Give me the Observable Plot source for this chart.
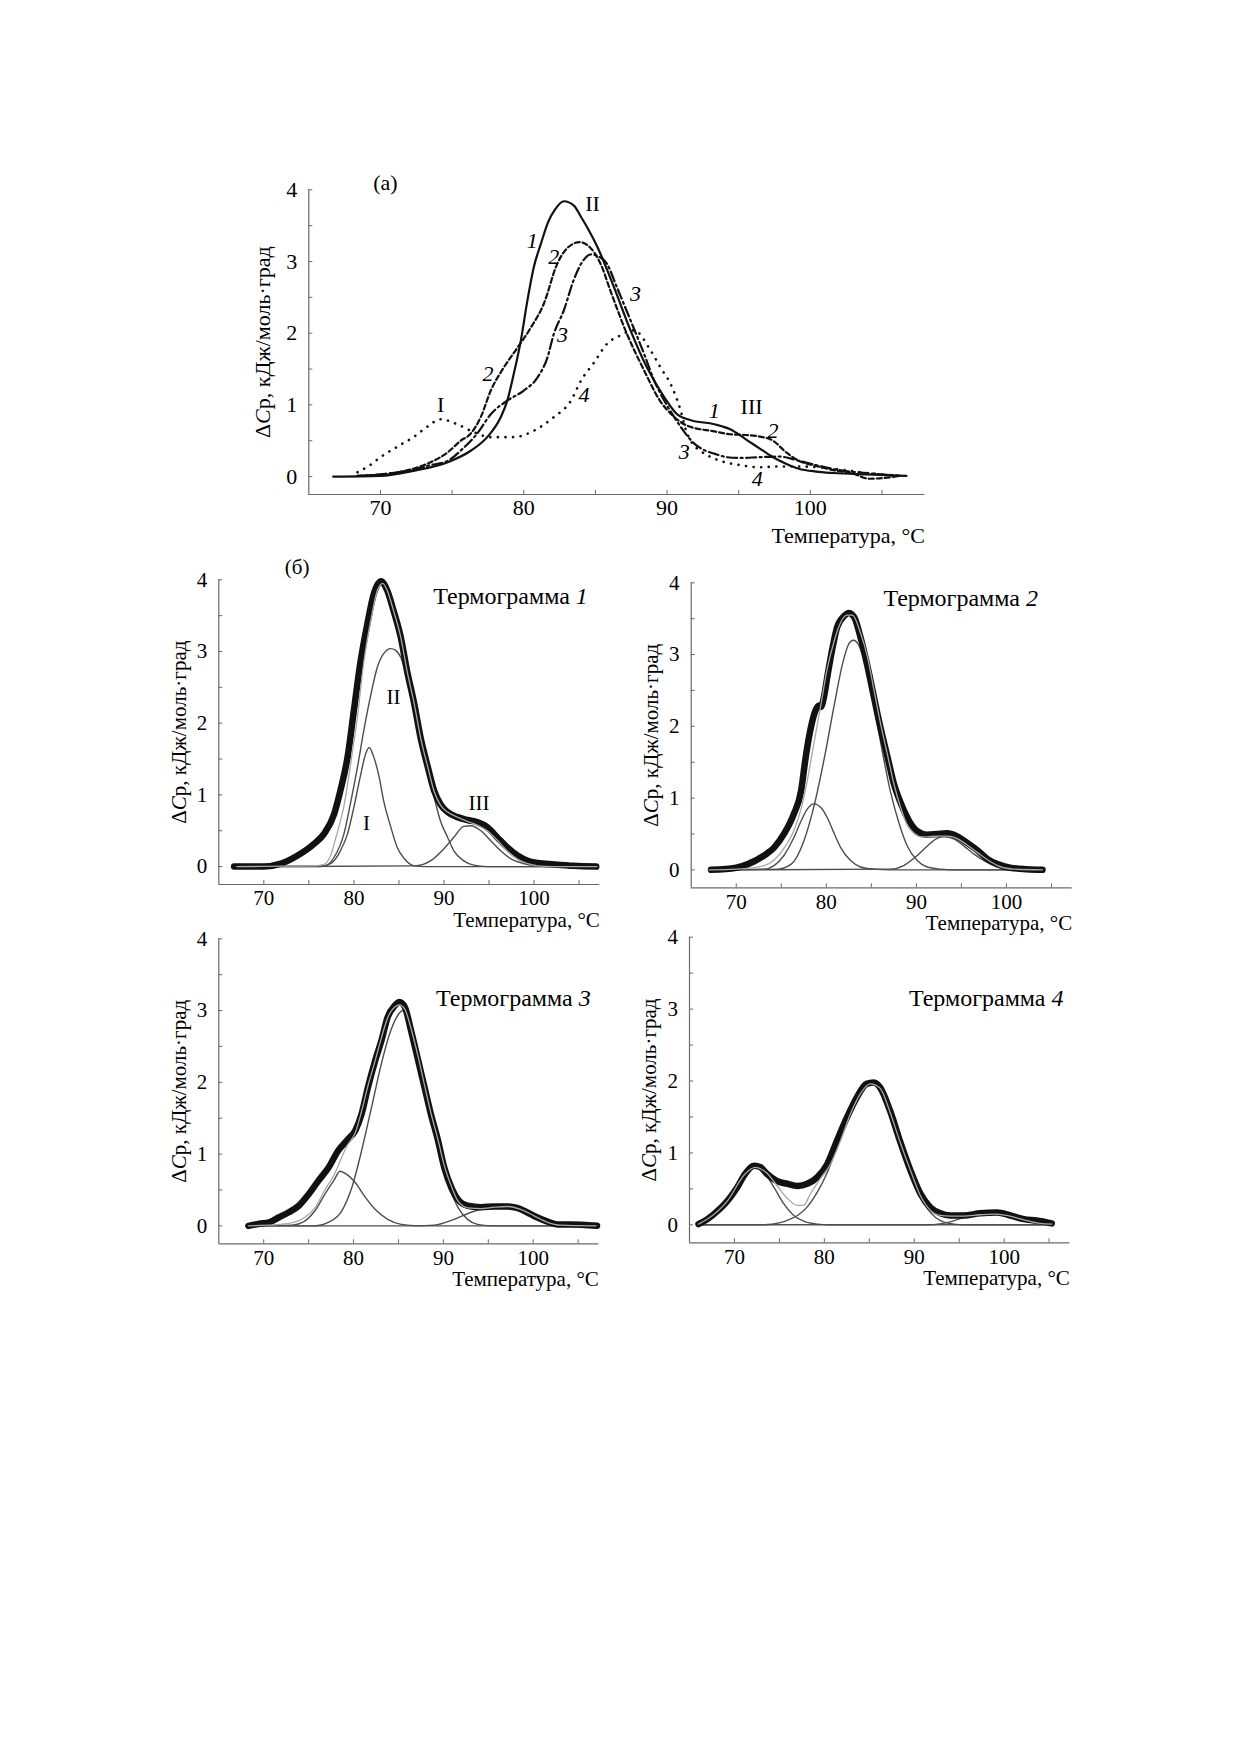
<!DOCTYPE html>
<html><head><meta charset="utf-8">
<script src="https://cdn.jsdelivr.net/npm/d3@7"></script>
<script src="https://cdn.jsdelivr.net/npm/@observablehq/plot@0.6"></script>
<style>
html,body{margin:0;padding:0;background:#fff;}
#page{position:relative;width:1240px;height:1754px;background:#fff;overflow:hidden;}
</style></head><body><div id="page"></div>
<script>
// ---------- shared tick labels ----------
const xTicks = [70, 75, 80, 85, 90, 95, 100, 105];
const yTicks = [0, 0.5, 1, 1.5, 2, 2.5, 3, 3.5, 4];
const xTitle = "Температура, °C";
const yTitle = "ΔCр, кДж/моль·град";

// ---------- panel (а): four thermograms [T, ΔCp] ----------
const a1 = [[66.7,0],[70,0.01],[72.3,0.08],[74.7,0.2],[76.3,0.36],[77.45,0.55],[78.4,0.83],[78.85,1.06],[79.3,1.43],[79.8,1.9],[80.25,2.45],[80.7,2.92],[81.2,3.25],[81.7,3.55],[82.2,3.73],[82.8,3.84],[83.5,3.78],[84.0,3.62],[84.5,3.45],[85.1,3.22],[86.3,2.64],[87.45,2.04],[88.6,1.52],[89.8,1.11],[90.7,0.87],[91.6,0.79],[93.3,0.73],[94.4,0.66],[95.5,0.52],[96.4,0.4],[97.4,0.27],[98.3,0.18],[99.2,0.11],[100.4,0.07],[101.6,0.05],[103.9,0.03],[106.7,0.01]];
const a2 = [[68.4,0.01],[70,0.03],[71.2,0.06],[72.3,0.11],[73.5,0.2],[74.7,0.34],[75.6,0.5],[76.3,0.6],[77.0,0.83],[77.7,1.2],[78.6,1.52],[79.5,1.78],[80.5,2.08],[81.4,2.41],[82.3,2.95],[83.0,3.18],[83.9,3.27],[84.9,3.13],[85.4,2.95],[86.05,2.59],[87.2,1.99],[88.4,1.48],[89.5,1.06],[90.4,0.85],[91.4,0.71],[93.3,0.63],[94.4,0.59],[95.5,0.58],[96.4,0.56],[97.4,0.5],[98.3,0.34],[99.2,0.22],[100.4,0.15],[101.6,0.09],[103,0.04],[104.1,-0.03],[105.1,-0.02],[106.2,0.01]];
const a3 = [[68.4,0.01],[70,0.03],[71.2,0.06],[72.3,0.1],[73.5,0.16],[74.7,0.22],[75.8,0.4],[76.75,0.6],[77.7,0.87],[78.85,1.06],[80.0,1.2],[80.95,1.38],[81.65,1.66],[82.1,1.99],[82.8,2.32],[83.5,2.75],[84.1,3.0],[84.7,3.1],[85.1,3.08],[85.8,2.97],[86.5,2.64],[87.45,2.18],[88.4,1.71],[89.1,1.34],[89.8,1.06],[90.5,0.83],[91.0,0.68],[91.9,0.46],[92.7,0.36],[93.3,0.32],[94.2,0.27],[95.1,0.26],[96.4,0.27],[97.8,0.28],[99.2,0.22],[100.6,0.15],[102,0.09],[103.9,0.05],[106.2,0.01]];
const a4 = [[68.4,0.06],[69.2,0.15],[70,0.27],[71.2,0.42],[72.3,0.55],[73.3,0.7],[74.2,0.8],[75.35,0.73],[76.5,0.62],[77.7,0.55],[79.3,0.55],[80.7,0.64],[82.1,0.83],[83.3,1.06],[84.0,1.34],[84.9,1.59],[85.8,1.85],[86.75,1.97],[87.7,2.04],[88.85,1.76],[89.55,1.52],[90.25,1.29],[90.95,0.92],[91.3,0.66],[91.7,0.48],[92.4,0.35],[93.7,0.22],[95.1,0.16],[96.4,0.13],[97.8,0.14],[99.2,0.14],[100.6,0.13],[102,0.1],[103.9,0.05],[106.2,0.01]];
const aRomanLabels = [{t:"(а)", x:70.35, y:4.1}, {t:"II", x:84.8, y:3.8}, {t:"I", x:74.2, y:1.0}, {t:"III", x:95.9, y:0.97}];
const aItalicLabels = [{t:"1", x:80.6, y:3.29}, {t:"2", x:82.1, y:3.06}, {t:"3", x:87.8, y:2.55}, {t:"3", x:82.7, y:1.97}, {t:"2", x:77.5, y:1.43}, {t:"4", x:84.2, y:1.14}, {t:"1", x:93.3, y:0.92}, {t:"2", x:97.4, y:0.64}, {t:"3", x:91.2, y:0.34}, {t:"4", x:96.3, y:-0.03}];

// ---------- panel (б), thermogram 1 ----------
const t1Exp = [[66.7,0],[70,0],[71.9,0.04],[73.7,0.15],[75.6,0.32],[76.7,0.46],[77.8,0.73],[78.5,1.06],[79.3,1.53],[80.0,2.18],[80.7,2.83],[81.5,3.39],[82.2,3.8],[83.0,3.98],[83.7,3.85],[84.4,3.57],[85.2,3.2],[85.9,2.73],[86.7,2.27],[87.4,1.8],[88.2,1.39],[88.9,1.06],[89.6,0.87],[90.4,0.76],[91.5,0.69],[92.6,0.65],[93.7,0.62],[94.8,0.55],[95.9,0.41],[97.0,0.27],[98.2,0.15],[99.3,0.08],[100.4,0.05],[102.2,0.03],[104.4,0.01],[106.9,0]];
const t1Fit = [[67,0],[75.6,0.01],[76.7,0.03],[77.4,0.15],[78.1,0.45],[78.9,0.85],[79.6,1.4],[80.4,2.1],[81.1,2.85],[81.9,3.45],[82.6,3.85],[83.2,3.95],[83.7,3.85],[84.4,3.57],[85.2,3.2],[85.9,2.73],[86.7,2.27],[87.4,1.8],[88.2,1.39],[88.9,1.05],[89.6,0.86],[90.4,0.76],[91.5,0.69],[92.6,0.63],[93.7,0.58],[94.8,0.5],[95.9,0.37],[97.0,0.22],[98.2,0.1],[99.3,0.04],[100.4,0.01],[102,0],[107,0]];
const t1PeakI = [[67,0],[76.3,0],[77.4,0.04],[78.5,0.22],[79.3,0.46],[80.0,0.83],[80.7,1.25],[81.3,1.57],[81.7,1.66],[82.2,1.53],[82.8,1.25],[83.3,0.92],[84.1,0.55],[84.8,0.27],[85.6,0.11],[86.7,0.01],[87.8,0],[107,0]];
const t1PeakII = [[67,0],[76.7,0.01],[77.8,0.13],[78.9,0.46],[79.6,0.87],[80.4,1.39],[81.1,1.9],[81.9,2.41],[82.6,2.78],[83.3,2.97],[84.1,3.04],[84.6,3.02],[85.2,2.92],[85.9,2.64],[86.7,2.22],[87.4,1.8],[88.2,1.34],[88.9,0.97],[89.6,0.64],[90.4,0.41],[91.1,0.22],[92.2,0.08],[93.3,0.02],[94.8,0],[107,0]];
const t1PeakIII = [[67,0],[86.7,0.01],[88.5,0.08],[90.0,0.25],[91.1,0.41],[92.2,0.56],[93.0,0.57],[94.1,0.5],[95.2,0.36],[96.3,0.22],[97.4,0.11],[98.9,0.04],[100.4,0.01],[101.9,0],[107,0]];
const t1Labels = [{t:"(б)", x:73.7, y:4.17}, {t:"II", x:84.4, y:2.36}, {t:"I", x:81.4, y:0.61}, {t:"III", x:93.9, y:0.89}];

// ---------- thermogram 2 ----------
const t2Exp = [[67.2,0],[70,0.03],[71.3,0.08],[73.1,0.2],[74.2,0.31],[75.3,0.5],[76.4,0.78],[77.2,1.1],[77.7,1.56],[78.3,1.99],[78.8,2.22],[79.2,2.29],[79.4,2.27],[79.8,2.45],[80.1,2.68],[80.7,3.1],[81.2,3.38],[82.0,3.54],[82.5,3.58],[83.1,3.52],[83.8,3.24],[84.6,2.82],[85.3,2.4],[86.0,1.99],[86.8,1.57],[87.5,1.2],[88.3,0.92],[89.2,0.68],[90.1,0.54],[91.2,0.49],[92.3,0.5],[93.4,0.51],[94.5,0.47],[95.6,0.38],[96.8,0.27],[97.9,0.15],[99.0,0.08],[100.4,0.03],[102.3,0.01],[104.0,0]];
const t2Fit = [[67,0],[70,0.01],[73.1,0.06],[75.3,0.3],[76.4,0.55],[77.2,0.85],[77.9,1.25],[78.6,1.75],[79.4,2.3],[80.1,2.8],[80.9,3.2],[81.6,3.45],[82.3,3.55],[82.9,3.55],[83.8,3.3],[84.6,2.95],[85.3,2.5],[86.0,2.05],[86.8,1.6],[87.5,1.2],[88.3,0.85],[89.0,0.62],[89.8,0.5],[90.5,0.46],[91.2,0.46],[92.3,0.47],[93.4,0.47],[94.5,0.44],[95.6,0.35],[96.8,0.24],[97.9,0.14],[99.0,0.06],[100.8,0.01],[104,0]];
const t2PeakI = [[67,0],[73.1,0.01],[74.2,0.06],[75.3,0.2],[76.4,0.45],[77.2,0.68],[77.9,0.85],[78.6,0.92],[79.4,0.87],[80.1,0.73],[80.9,0.5],[81.6,0.31],[82.7,0.13],[83.8,0.04],[85.3,0.01],[87.1,0],[104,0]];
const t2PeakII = [[67,0],[74.6,0.01],[76.1,0.08],[77.5,0.4],[78.6,0.87],[79.8,1.57],[80.9,2.31],[81.8,2.87],[82.5,3.15],[83.0,3.2],[83.6,3.13],[84.4,2.82],[85.3,2.27],[86.2,1.66],[87.1,1.1],[88.1,0.64],[89.0,0.33],[90.1,0.13],[91.2,0.04],[92.7,0.01],[94,0],[104,0]];
const t2PeakIII = [[67,0],[87.1,0.01],[88.6,0.06],[90.1,0.2],[91.2,0.33],[92.3,0.44],[93.1,0.46],[94.2,0.43],[95.3,0.33],[96.4,0.22],[97.5,0.13],[99.0,0.04],[100.8,0],[104,0]];

// ---------- thermogram 3 ----------
const t3Exp = [[68.3,0],[69.5,0.03],[70.6,0.05],[71.7,0.12],[72.8,0.19],[73.9,0.28],[75.0,0.44],[76.1,0.63],[77.2,0.81],[78.3,1.05],[79.4,1.21],[80.2,1.33],[80.9,1.56],[81.6,1.93],[82.4,2.3],[83.1,2.58],[83.8,2.91],[84.6,3.07],[85.1,3.12],[85.7,3.05],[86.4,2.72],[87.2,2.3],[87.9,1.93],[88.6,1.56],[89.4,1.19],[90.1,0.81],[90.9,0.53],[91.6,0.37],[92.7,0.28],[94.2,0.26],[95.7,0.27],[97.1,0.27],[98.2,0.25],[99.3,0.19],[100.4,0.12],[101.6,0.06],[102.7,0.02],[104.1,0.02],[107.1,0]];
const t3Fit = [[68.3,0],[71.7,0.02],[73.1,0.04],[74.6,0.12],[75.7,0.25],[76.8,0.5],[77.8,0.7],[78.5,0.9],[79.2,1.1],[80.2,1.3],[80.9,1.6],[81.6,1.95],[82.4,2.3],[83.1,2.62],[83.8,2.9],[84.6,3.05],[85.1,3.08],[85.7,3.02],[86.4,2.75],[87.2,2.35],[87.9,1.96],[88.6,1.58],[89.4,1.2],[90.1,0.84],[90.9,0.55],[91.6,0.35],[92.7,0.25],[94.2,0.24],[95.7,0.26],[97.1,0.27],[98.6,0.23],[100.1,0.14],[101.6,0.05],[103,0.01],[107,0]];
const t3PeakI = [[68,0],[73.1,0.01],[74.6,0.07],[75.7,0.21],[76.8,0.44],[77.8,0.63],[78.5,0.76],[79.2,0.72],[80.2,0.6],[81.3,0.4],[82.4,0.23],[83.8,0.09],[85.3,0.02],[87.2,0],[107,0]];
const t3PeakII = [[68,0],[75.7,0],[77.2,0.05],[78.7,0.21],[79.8,0.53],[80.9,1.05],[82.0,1.65],[83.1,2.26],[84.0,2.67],[84.8,2.91],[85.5,3.0],[86.2,2.86],[87.0,2.49],[87.9,1.98],[88.8,1.42],[89.7,0.91],[90.7,0.53],[91.6,0.26],[92.7,0.09],[93.8,0.02],[95.3,0],[107,0]];
const t3PeakIII = [[68,0],[86.8,0],[89.0,0.01],[91.2,0.09],[93.1,0.19],[94.2,0.23],[95.7,0.26],[97.1,0.27],[98.6,0.23],[100.1,0.14],[101.6,0.05],[103.0,0.01],[104.8,0],[107,0]];

// ---------- thermogram 4 ----------
const t4Exp = [[66.0,0.01],[67.0,0.08],[68.1,0.19],[69.2,0.33],[70.3,0.52],[71.2,0.71],[72.2,0.82],[72.9,0.8],[73.6,0.71],[74.7,0.61],[75.9,0.57],[77.0,0.54],[78.1,0.57],[79.2,0.66],[80.3,0.84],[81.4,1.17],[82.5,1.49],[83.6,1.77],[84.7,1.96],[85.5,1.98],[86.2,1.91],[87.3,1.59],[88.4,1.17],[89.6,0.75],[90.7,0.43],[91.8,0.24],[92.9,0.16],[94.0,0.13],[95.5,0.13],[97.3,0.16],[99.2,0.17],[100.7,0.13],[102.2,0.08],[103.6,0.06],[105.3,0.02]];
const t4Fit = [[66,0.01],[67,0.08],[69.2,0.33],[71.2,0.71],[72.3,0.8],[73.6,0.72],[74.7,0.55],[75.8,0.38],[77.0,0.27],[77.7,0.27],[78.4,0.42],[79.6,0.65],[80.7,0.85],[81.8,1.17],[82.9,1.54],[84.0,1.82],[85.1,1.96],[86.2,1.9],[87.3,1.57],[88.4,1.16],[89.6,0.75],[90.7,0.4],[91.8,0.2],[92.9,0.13],[94.0,0.12],[95.5,0.12],[97.3,0.14],[98.8,0.15],[100.3,0.13],[102.2,0.07],[104,0.02],[105.3,0.01]];
const t4PeakI = [[66.0,0.01],[67.0,0.08],[68.1,0.19],[69.2,0.33],[70.3,0.54],[71.2,0.71],[72.3,0.8],[73.3,0.73],[74.4,0.52],[75.5,0.29],[76.6,0.13],[77.7,0.05],[79.2,0.01],[80.7,0],[105.3,0]];
const t4PeakII = [[66,0],[73.3,0],[75.1,0.03],[76.2,0.08],[77.0,0.13],[78.1,0.25],[79.2,0.45],[80.3,0.72],[81.4,1.08],[82.5,1.45],[83.6,1.75],[84.7,1.93],[85.5,1.97],[86.2,1.89],[87.3,1.56],[88.4,1.15],[89.6,0.73],[90.7,0.38],[91.8,0.17],[92.9,0.06],[94.4,0.01],[95.5,0],[105.3,0]];
const t4PeakIII = [[66,0],[91.8,0],[93.6,0.03],[95.5,0.1],[97.3,0.14],[98.8,0.15],[100.3,0.13],[102.2,0.06],[104.0,0.01],[105.3,0]];

// thermogram titles: number, right end (°C), vertical centre (ΔCp)
const titleNums = ["1", "2", "3", "4"];
const titleX = [105.97, 103.5, 106.4, 106.6];
const titleY = [3.77, 3.79, 3.17, 3.15];

// ---------- drawing ----------
const FONT = "'Liberation Serif', 'Times New Roman', serif";
const AXIS = "#6a6a6a";
const page = document.getElementById("page");
const X = d => d[0], Y = d => d[1];

function axes(opt) {
  return [
    Plot.ruleX([opt.xDomain[0]], {stroke: AXIS, strokeWidth: 1.2}),
    Plot.ruleY([opt.yDomain[0]], {stroke: AXIS, strokeWidth: 1.2}),
    Plot.axisX(xTicks, {anchor: "bottom", tickSize: -4, tickPadding: opt.xPad, stroke: AXIS, fill: "#000",
      tickFormat: d => d % 10 === 0 ? String(d) : "", label: null}),
    Plot.text([xTitle], {frameAnchor: "bottom-right", text: d => d, textAnchor: "end", lineAnchor: "bottom",
      dy: opt.xLabelOffset, fill: "#000"}),
    Plot.axisY(yTicks, {anchor: "left", tickSize: -4, tickPadding: 15.6, stroke: AXIS, fill: "#000",
      tickFormat: d => Number.isInteger(d) ? String(d) : "",
      label: yTitle, labelAnchor: "center", labelOffset: opt.yLabelOffset, labelArrow: "none"})
  ];
}

function draw(opt, marks) {
  const [bl, bt, bw, bh] = opt.box;
  const [fx0, fy0, fx1, fy1] = opt.frame;
  const svg = Plot.plot({
    width: bw, height: bh,
    marginLeft: fx0 - bl, marginTop: fy0 - bt, marginRight: bl + bw - fx1, marginBottom: bt + bh - fy1,
    x: {domain: opt.xDomain}, y: {domain: opt.yDomain},
    style: {fontFamily: FONT, fontSize: opt.fontSize + "px", color: "#000", background: "transparent", overflow: "visible"},
    marks: [...axes(opt), ...marks]
  });
  svg.style.position = "absolute";
  svg.style.left = bl + "px";
  svg.style.top = bt + "px";
  page.appendChild(svg);
  const lab = svg.querySelector('g[aria-label="y-axis label"] text');
  if (lab) {
    const ns = "http://www.w3.org/2000/svg";
    lab.textContent = "";
    const parts = [["Δ", null], ["C", "italic"], ["р, кДж/моль·град", null]];
    for (const [s, st] of parts) {
      const ts = document.createElementNS(ns, "tspan");
      if (st) ts.setAttribute("font-style", st);
      ts.textContent = s;
      lab.appendChild(ts);
    }
  }
}

// Panel (а)
draw({box: [180, 140, 780, 420], frame: [308.3, 189.3, 924.5, 494], xDomain: [65, 108], yDomain: [-0.25, 4],
      fontSize: 22, xPad: 8.5, xLabelOffset: 48, yLabelOffset: 54}, [
  Plot.line(a4, {x: X, y: Y, stroke: "#111", strokeWidth: 2.6, strokeDasharray: "0.1 7.5", strokeLinecap: "round", curve: "monotone-x"}),
  Plot.line(a3, {x: X, y: Y, stroke: "#111", strokeWidth: 2.2, strokeDasharray: "10 3.5 2 3.5", curve: "monotone-x"}),
  Plot.line(a2, {x: X, y: Y, stroke: "#111", strokeWidth: 2.2, strokeDasharray: "5 3", curve: "monotone-x"}),
  Plot.line(a1, {x: X, y: Y, stroke: "#111", strokeWidth: 2.2, curve: "monotone-x"}),
  Plot.text(aRomanLabels, {x: "x", y: "y", text: "t", fontSize: 22, fill: "#000"}),
  Plot.text(aItalicLabels, {x: "x", y: "y", text: "t", fontSize: 22, fontStyle: "italic", fill: "#000"})
]);

const bPanels = [
  {box: [130, 540, 500, 400], frame: [218.3, 579.3, 599.3, 884], data: [t1Exp, t1Fit, t1PeakI, t1PeakII, t1PeakIII], labels: t1Labels},
  {box: [600, 540, 500, 400], frame: [690.7, 582.3, 1071.7, 887.3], data: [t2Exp, t2Fit, t2PeakI, t2PeakII, t2PeakIII], labels: []},
  {box: [130, 900, 500, 400], frame: [218.3, 938.3, 598.3, 1243.3], data: [t3Exp, t3Fit, t3PeakI, t3PeakII, t3PeakIII], labels: []},
  {box: [600, 900, 500, 400], frame: [689, 936.7, 1069.3, 1242.3], data: [t4Exp, t4Fit, t4PeakI, t4PeakII, t4PeakIII], labels: []}
];

bPanels.forEach((p, i) => {
  const [exp, fit, pI, pII, pIII] = p.data;
  const title = [{n: titleNums[i], x: titleX[i], y: titleY[i]}];
  draw({box: p.box, frame: p.frame, xDomain: [65, 107.3], yDomain: [-0.25, 4],
        fontSize: 21, xPad: 10, xLabelOffset: 42, yLabelOffset: 48}, [
    Plot.line(pI, {x: X, y: Y, stroke: "#4d4d4d", strokeWidth: 1.4, curve: "monotone-x"}),
    Plot.line(pII, {x: X, y: Y, stroke: "#4d4d4d", strokeWidth: 1.4, curve: "monotone-x"}),
    Plot.line(pIII, {x: X, y: Y, stroke: "#4d4d4d", strokeWidth: 1.4, curve: "monotone-x"}),
    Plot.line(exp, {x: X, y: Y, stroke: "#111", strokeWidth: 6.5, strokeLinecap: "round", strokeLinejoin: "round", curve: "monotone-x"}),
    Plot.line(fit, {x: X, y: Y, stroke: "#a8a8a8", strokeWidth: 1.3, curve: "monotone-x"}),
    Plot.text(title, {x: "x", y: "y", text: () => "Термограмма", textAnchor: "end", dx: -18, fontSize: 24, fill: "#000"}),
    Plot.text(title, {x: "x", y: "y", text: "n", textAnchor: "end", fontSize: 24, fontStyle: "italic", fill: "#000"}),
    Plot.text(p.labels, {x: "x", y: "y", text: "t", fontSize: 21, fill: "#000"})
  ]);
});
</script></body></html>
